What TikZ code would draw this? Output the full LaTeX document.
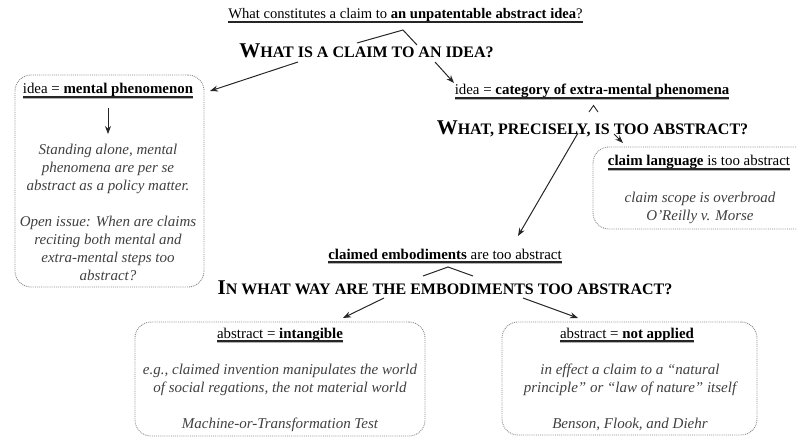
\documentclass[tikz,border=0pt]{standalone}
\usepackage{fontspec}
\setmainfont{Liberation Serif}
\usetikzlibrary{arrows.meta}
\definecolor{bodygray}{HTML}{404040}
\definecolor{boxgray}{HTML}{8A8A8A}
\newcommand{\bigsc}[2]{{\fontsize{21}{24}\selectfont #1}{\fontsize{16}{19}\selectfont #2}}
\newcommand{\fl}{\rule{0pt}{11pt}}
\begin{document}
\begin{tikzpicture}[x=1pt,y=-1pt,
  every node/.style={inner sep=0pt, outer sep=0pt},
  titletxt/.style={font=\fontsize{14.6}{17}\selectfont},
  question/.style={font=\bfseries},
  lbl/.style={font=\fontsize{14.9}{17}\selectfont},
  body/.style={font=\fontsize{15}{18}\selectfont\itshape, text=bodygray, align=center, anchor=north},
  dbox/.style={draw=boxgray, densely dotted, rounded corners=16pt, line width=0.9pt},
  arr/.style={-{Stealth[length=8pt,width=6pt]}, line width=1pt, draw=black!85},
  conn/.style={line width=1pt, draw=black!85},
  uline/.style={line width=1.1pt, draw=black!85},
  ushadow/.style={line width=1.1pt, draw=black!30},
]
\useasboundingbox (0,0) rectangle (797,438);

% boxes
\node[dbox, minimum width=189pt, minimum height=212pt, anchor=north west] (mbox) at (15,75) {};
\node[dbox, minimum width=240pt, minimum height=82pt, anchor=north west] (cbox) at (593,147) {};
\node[dbox, minimum width=290pt, minimum height=114pt, anchor=north west] (ibox) at (135,322) {};
\node[dbox, minimum width=255pt, minimum height=113pt, anchor=north west] (abox) at (502,322) {};

% title
\node[titletxt, anchor=base] (title) at (405.5,19) {What constitutes a claim to \textbf{an unpatentable abstract idea}?};
\draw[uline] ([yshift=-3pt]title.base west) -- ([yshift=-3pt]title.base east);

% Q1
\node[question, anchor=base] (q1) at (366.5,58) {\bigsc{W}{HAT IS A CLAIM TO AN IDEA?}};
\coordinate (t1a) at (357,43);
\coordinate (t1b) at (403,30);
\coordinate (t1c) at (417,45);
\draw[conn] (t1a) -- (t1b) -- (t1c);

% left branch
\node[lbl, anchor=base] (mlab) at (108,94) {idea = \textbf{mental phenomenon}};
\draw[ushadow] ([yshift=-4.6pt]mlab.base west) -- ([yshift=-4.6pt]mlab.base east);
\draw[uline] ([yshift=-3pt]mlab.base west) -- ([yshift=-3pt]mlab.base east);
\coordinate (q1l) at (298,62);
\coordinate (mboxin) at (210,91);
\draw[arr] (q1l) -- (mboxin);
\coordinate (mlabdn) at (108,108);
\coordinate (mdown) at (108,134);
\draw[arr] (mlabdn) -- (mdown);
\node[body] (mtext) at (108,143) {\fl Standing alone, mental\\phenomena are per se\\abstract as a policy matter.\\[18pt]Open issue: When are claims\\reciting both mental and\\extra-mental steps too\\abstract?};

% right branch
\node[lbl, anchor=base] (clab) at (592,95) {idea = \textbf{category of extra-mental phenomena}};
\draw[ushadow] ([yshift=-4.6pt]clab.base west) -- ([yshift=-4.6pt]clab.base east);
\draw[uline] ([yshift=-3pt]clab.base west) -- ([yshift=-3pt]clab.base east);
\coordinate (q1r) at (435,62);
\coordinate (clabin) at (454,83);
\draw[arr] (q1r) -- (clabin);

% Q2
\node[question, anchor=base] (q2) at (592.5,135) {\bigsc{W}{HAT, PRECISELY, IS TOO ABSTRACT?}};
\coordinate (t2a) at (589,112);
\coordinate (t2b) at (593.5,105.5);
\coordinate (t2c) at (598,112);
\draw[conn, line width=0.9pt] (t2a) -- (t2b) -- (t2c);

% claim language
\node[lbl, anchor=base] (llab) at (699,166) {\textbf{claim language} is too abstract};
\draw[ushadow] ([yshift=-4.6pt]llab.base west) -- ([yshift=-4.6pt]llab.base east);
\draw[uline] ([yshift=-3pt]llab.base west) -- ([yshift=-3pt]llab.base east);
\coordinate (q2r) at (614,134);
\coordinate (cboxin) at (623,143);
\draw[arr] (q2r) -- (cboxin);
\node[body] (ltext) at (700,192) {\fl claim scope is overbroad\\O'Reilly v. Morse};

% embodiments
\node[lbl, anchor=base] (elab) at (445,259) {\textbf{claimed embodiments} are too abstract};
\draw[ushadow] ([yshift=-4.6pt]elab.base west) -- ([yshift=-4.6pt]elab.base east);
\draw[uline] ([yshift=-3pt]elab.base west) -- ([yshift=-3pt]elab.base east);
\coordinate (q2l) at (578,133);
\coordinate (elabin) at (518,236);
\draw[arr] (q2l) -- (elabin);

% Q3
\node[question, anchor=base] (q3) at (445,294) {\bigsc{I}{N WHAT WAY ARE THE EMBODIMENTS TOO ABSTRACT?}};
\coordinate (t3a) at (423,276);
\coordinate (t3b) at (448,267);
\coordinate (t3c) at (473,276);
\draw[conn] (t3a) -- (t3b) -- (t3c);

% bottom left
\coordinate (q3l) at (384,298);
\coordinate (iboxin) at (343,318);
\draw[arr] (q3l) -- (iboxin);
\node[lbl, anchor=base] (ilab) at (280,338) {abstract = \textbf{intangible}};
\draw[ushadow] ([yshift=-4.6pt]ilab.base west) -- ([yshift=-4.6pt]ilab.base east);
\draw[uline] ([yshift=-3pt]ilab.base west) -- ([yshift=-3pt]ilab.base east);
\node[body] (itext) at (280,363) {\fl e.g., claimed invention manipulates the world\\of social regations, the not material world\\[18pt]Machine-or-Transformation Test};

% bottom right
\coordinate (q3r) at (523,298);
\coordinate (aboxin) at (578,318);
\draw[arr] (q3r) -- (aboxin);
\node[lbl, anchor=base] (alab) at (627,338) {abstract = \textbf{not applied}};
\draw[ushadow] ([yshift=-4.6pt]alab.base west) -- ([yshift=-4.6pt]alab.base east);
\draw[uline] ([yshift=-3pt]alab.base west) -- ([yshift=-3pt]alab.base east);
\node[body] (atext) at (630,363) {\fl in effect a claim to a ``natural\\principle'' or ``law of nature'' itself\\[18pt]Benson, Flook, and Diehr};
\end{tikzpicture}
\end{document}
